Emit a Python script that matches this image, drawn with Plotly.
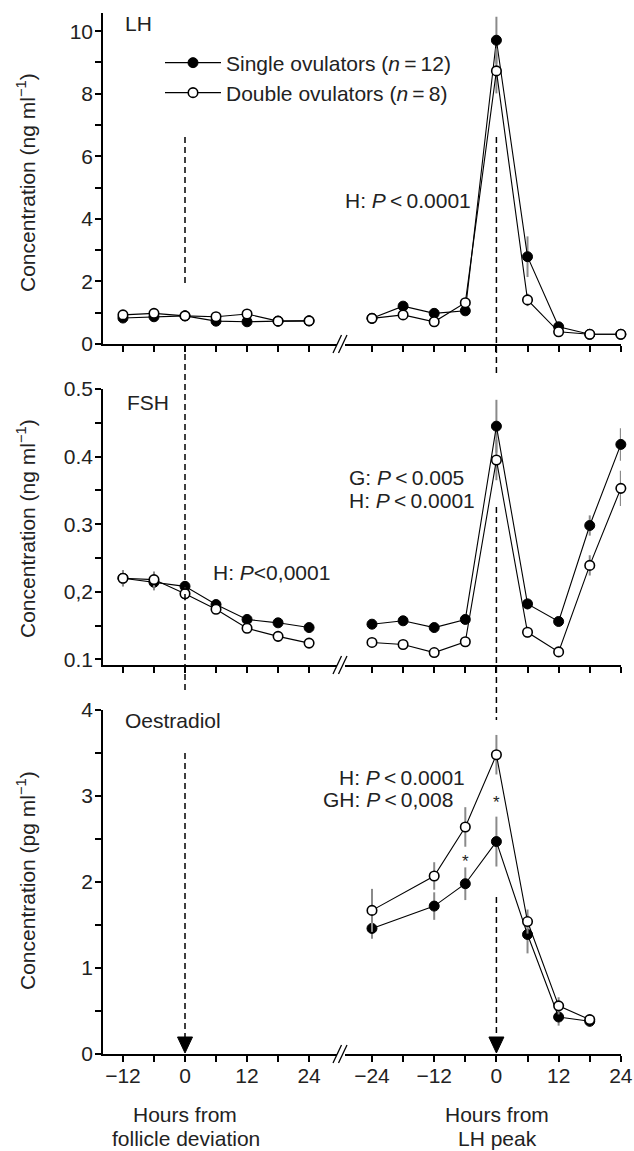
import plotly.graph_objects as go

W, H = 634, 1151
FONT = "Liberation Sans, Arial, Helvetica, sans-serif"
TXT = "#222222"


def px(x):
    return x / W


def py(y):
    return 1 - y / H


# ---------------- data ----------------
hours_left = [-12, -6, 0, 6, 12, 18, 24]
hours_right = [-24, -18, -12, -6, 0, 6, 12, 18, 24]
hours_e2 = [-24, -12, -6, 0, 6, 12, 18]

lh_single_left = [0.83, 0.87, 0.90, 0.73, 0.71, 0.73, 0.74]
lh_double_left = [0.93, 0.98, 0.90, 0.87, 0.96, 0.73, 0.74]
lh_single_left_se = [0.06, 0.06, 0.05, 0.06, 0.06, 0.04, 0.04]
lh_double_left_se = [0.06, 0.06, 0.05, 0.06, 0.06, 0.04, 0.04]
lh_single_right = [0.82, 1.21, 0.98, 1.06, 9.71, 2.79, 0.55, 0.31, 0.31]
lh_double_right = [0.82, 0.93, 0.71, 1.32, 8.73, 1.41, 0.39, 0.31, 0.31]
lh_single_right_se = [0.05, 0.08, 0.06, 0.08, 0.75, 0.65, 0.08, 0.04, 0.04]
lh_double_right_se = [0.05, 0.06, 0.06, 0.10, 0.72, 0.20, 0.06, 0.04, 0.04]

fsh_single_left = [0.220, 0.214, 0.208, 0.181, 0.159, 0.154, 0.147]
fsh_double_left = [0.220, 0.218, 0.197, 0.174, 0.146, 0.134, 0.124]
fsh_single_left_se = [0.012, 0.012, 0.008, 0.007, 0.005, 0.005, 0.004]
fsh_double_left_se = [0.012, 0.012, 0.010, 0.006, 0.006, 0.008, 0.005]
fsh_single_right = [0.152, 0.157, 0.147, 0.159, 0.445, 0.182, 0.156, 0.298, 0.418]
fsh_double_right = [0.125, 0.122, 0.110, 0.126, 0.395, 0.140, 0.111, 0.239, 0.353]
fsh_single_right_se = [0.005, 0.005, 0.005, 0.006, 0.039, 0.008, 0.006, 0.015, 0.024]
fsh_double_right_se = [0.005, 0.005, 0.004, 0.005, 0.030, 0.008, 0.004, 0.015, 0.026]

e2_single = [1.46, 1.72, 1.98, 2.47, 1.39, 0.43, 0.38]
e2_double = [1.67, 2.07, 2.64, 3.48, 1.54, 0.56, 0.40]
e2_single_se = [0.12, 0.16, 0.19, 0.29, 0.22, 0.10, 0.06]
e2_double_se = [0.25, 0.16, 0.23, 0.23, 0.14, 0.10, 0.06]

left_ticks = [-12, 0, 12, 24]
left_ticktext = ["\u221212", "0", "12", "24"]
left_minor = [-6, 6, 18]
right_ticks = [-24, -12, 0, 12, 24]
right_ticktext = ["\u221224", "\u221212", "0", "12", "24"]
right_minor = [-18, -6, 6, 18]

lh_ticks = [0, 2, 4, 6, 8, 10]
lh_ticktext = ["0", "2", "4", "6", "8", "10"]
lh_minor = [1, 3, 5, 7, 9]
fsh_ticks = [0.1, 0.2, 0.3, 0.4, 0.5]
fsh_ticktext = ["0.1", "0,2", "0.3", "0.4", "0.5"]
fsh_minor = [0.15, 0.25, 0.35, 0.45]
e2_ticks = [0, 1, 2, 3, 4]
e2_ticktext = ["0", "1", "2", "3", "4"]
e2_minor = [0.5, 1.5, 2.5, 3.5]

series_single = "Single ovulators (<i>n</i>\u2009=\u200912)"
series_double = "Double ovulators (<i>n</i>\u2009=\u20098)"

# ---------------- geometry (pixels) ----------------
LEFT_X0, LEFT_X1 = 103, 337
RIGHT_X0, RIGHT_X1 = 345, 621
left_zero_px, left_scale = 185, 5.17
right_zero_px, right_scale = 496.5, 5.1875
left_range = [(LEFT_X0 - left_zero_px) / left_scale, (LEFT_X1 - left_zero_px) / left_scale]
right_range = [(RIGHT_X0 - right_zero_px) / right_scale, 24.03]

rows = [
    dict(top=13, bottom=344, rng=[0, 10.58], tv=lh_ticks, tt=lh_ticktext, mv=lh_minor),
    dict(top=389, bottom=665, rng=[0.0916, 0.5], tv=fsh_ticks, tt=fsh_ticktext, mv=fsh_minor),
    dict(top=710, bottom=1054, rng=[0, 4], tv=e2_ticks, tt=e2_ticktext, mv=e2_minor),
]

fig = go.Figure()


def add_series(x, y, err, idx, filled, name, legend=None):
    ax = "" if idx == 1 else str(idx)
    fig.add_trace(go.Scatter(
        x=x, y=y, mode="lines+markers", name=name,
        xaxis="x" + ax, yaxis="y" + ax,
        line=dict(color="black", width=1.1),
        marker=dict(
            symbol="circle",
            size=10 if filled else 9.5,
            color="black" if filled else "white",
            line=dict(color="black", width=1 if filled else 1.6),
        ),
        error_y=dict(type="data", array=err, color="#8a8a8a", thickness=2, width=0),
        cliponaxis=False,
        showlegend=legend is not None,
        legend=legend if legend else "legend",
    ))


# LH
add_series(hours_left, lh_single_left, lh_single_left_se, 1, True, series_single)
add_series(hours_left, lh_double_left, lh_double_left_se, 1, False, series_double)
add_series(hours_right, lh_single_right, lh_single_right_se, 2, True, series_single, legend="legend")
add_series(hours_right, lh_double_right, lh_double_right_se, 2, False, series_double, legend="legend2")
# FSH
add_series(hours_left, fsh_single_left, fsh_single_left_se, 3, True, series_single)
add_series(hours_left, fsh_double_left, fsh_double_left_se, 3, False, series_double)
add_series(hours_right, fsh_single_right, fsh_single_right_se, 4, True, series_single)
add_series(hours_right, fsh_double_right, fsh_double_right_se, 4, False, series_double)
# Oestradiol
add_series(hours_e2, e2_single, e2_single_se, 6, True, series_single)
add_series(hours_e2, e2_double, e2_double_se, 6, False, series_double)

tickfont = dict(family=FONT, size=21, color=TXT)
minor_style = dict(ticks="outside", ticklen=6, tickwidth=1.5, tickcolor="black", showgrid=False)
layout_axes = {}
for r, row in enumerate(rows):
    li, ri = 2 * r + 1, 2 * r + 2
    lname = "" if li == 1 else str(li)
    rname = str(ri)
    ydom = [py(row["bottom"]), py(row["top"])]
    bottom = r == 2
    common_x = dict(
        showline=True, linecolor="black", linewidth=1.5,
        ticks="outside", ticklen=6, tickwidth=1.5, tickcolor="black",
        showgrid=False, zeroline=False, tickfont=tickfont,
        showticklabels=bottom, tickmode="array", ticklabelstandoff=-4,
        automargin=False, fixedrange=True,
    )
    layout_axes["xaxis" + lname] = dict(
        common_x, domain=[px(LEFT_X0), px(LEFT_X1)], range=left_range,
        anchor="y" + lname, tickvals=left_ticks, ticktext=left_ticktext,
        minor=dict(minor_style, tickmode="array", tickvals=left_minor))
    layout_axes["xaxis" + rname] = dict(
        common_x, domain=[px(RIGHT_X0), px(RIGHT_X1)], range=right_range,
        anchor="y" + rname, tickvals=right_ticks, ticktext=right_ticktext,
        minor=dict(minor_style, tickmode="array", tickvals=right_minor))
    layout_axes["yaxis" + lname] = dict(
        domain=ydom, range=row["rng"], anchor="x" + lname,
        showline=True, linecolor="black", linewidth=1.5,
        ticks="outside", ticklen=6, tickwidth=1.5, tickcolor="black",
        tickmode="array", tickvals=row["tv"], ticktext=row["tt"],
        minor=dict(minor_style, tickmode="array", tickvals=row["mv"]),
        showgrid=False, zeroline=False, tickfont=tickfont,
        ticklabelstandoff=-2, automargin=False, fixedrange=True)
    layout_axes["yaxis" + rname] = dict(
        domain=ydom, range=row["rng"], anchor="x" + rname, visible=False,
        fixedrange=True)

shapes = []
dash = dict(color="black", width=1.5, dash="6px,4px")
for (y0, y1) in [(137, 285), (344, 690), (753, 1037)]:
    shapes.append(dict(type="line", xref="x", yref="paper", x0=0, x1=0,
                       y0=py(y0), y1=py(y1), line=dash))
for (y0, y1) in [(137, 373), (507, 720), (897, 1037)]:
    shapes.append(dict(type="line", xref="x2", yref="paper", x0=0, x1=0,
                       y0=py(y0), y1=py(y1), line=dash))
# arrow heads at x = 0
for xr, sc in [("x5", left_scale), ("x6", right_scale)]:
    hw = 7.5 / sc
    shapes.append(dict(
        type="path", xref=xr, yref="paper",
        path=f"M {-hw},{py(1037)} L {hw},{py(1037)} L 0,{py(1053)} Z",
        fillcolor="black", line=dict(color="black", width=1)))
# axis break marks
for r, row in enumerate(rows):
    ya = row["bottom"]
    for xs in (333, 338.5):
        shapes.append(dict(type="line", xref="paper", yref="paper",
                           x0=px(xs), y0=py(ya + 9), x1=px(xs + 8.5), y1=py(ya - 9),
                           line=dict(color="black", width=1.3)))

ann = []


def text(x, y, s, xanchor="left", size=21, **kw):
    ann.append(dict(x=px(x), y=py(y), xref="paper", yref="paper", text=s,
                    showarrow=False, xanchor=xanchor, yanchor="middle",
                    font=dict(family=FONT, size=size, color=TXT), **kw))


text(123, 24, "LH")
text(473, 200, "H: <i>P</i>\u2009<\u20090.0001", xanchor="right")
text(125, 402, "FSH")
text(211, 573, "H: <i>P</i><0,0001")
text(347, 478, "G: <i>P</i>\u2009<\u20090.005")
text(347, 500, "H: <i>P</i>\u2009<\u20090.0001")
text(123, 720, "Oestradiol")
text(337, 777, "H: <i>P</i>\u2009<\u20090.0001")
text(321, 799, "GH: <i>P</i>\u2009<\u20090,008")
text(185, 1114, "Hours from", xanchor="center")
text(186, 1138, "follicle deviation", xanchor="center")
text(497, 1114, "Hours from", xanchor="center")
text(497, 1138, "LH peak", xanchor="center")
for yc, unit in [(183, "ng"), (529, "ng"), (881, "pg")]:
    text(26, yc, f"Concentration ({unit} ml<sup>\u22121</sup>)", xanchor="center",
         textangle=-90)
# asterisks in the oestradiol panel
for xv, yv in [(-6, 2.24), (0, 2.93)]:
    ann.append(dict(x=xv, y=yv, xref="x6", yref="y6", text="*", showarrow=False,
                    xanchor="center", yanchor="middle",
                    font=dict(family=FONT, size=17, color=TXT)))

legend_common = dict(xanchor="left", yanchor="middle", bgcolor="rgba(0,0,0,0)",
                     borderwidth=0, font=dict(family=FONT, size=21, color=TXT),
                     itemclick=False, itemdoubleclick=False, itemwidth=56)

fig.update_layout(
    width=W, height=H, template="none",
    paper_bgcolor="white", plot_bgcolor="rgba(0,0,0,0)",
    margin=dict(l=0, r=0, t=0, b=0),
    font=dict(family=FONT, size=21, color=TXT),
    shapes=shapes, annotations=ann,
    legend=dict(legend_common, x=px(160), y=py(63)),
    legend2=dict(legend_common, x=px(160), y=py(93)),
    **layout_axes,
)

fig.write_html("out.html", config={"displayModeBar": False},
               post_script="document.body.style.margin='0px';")
